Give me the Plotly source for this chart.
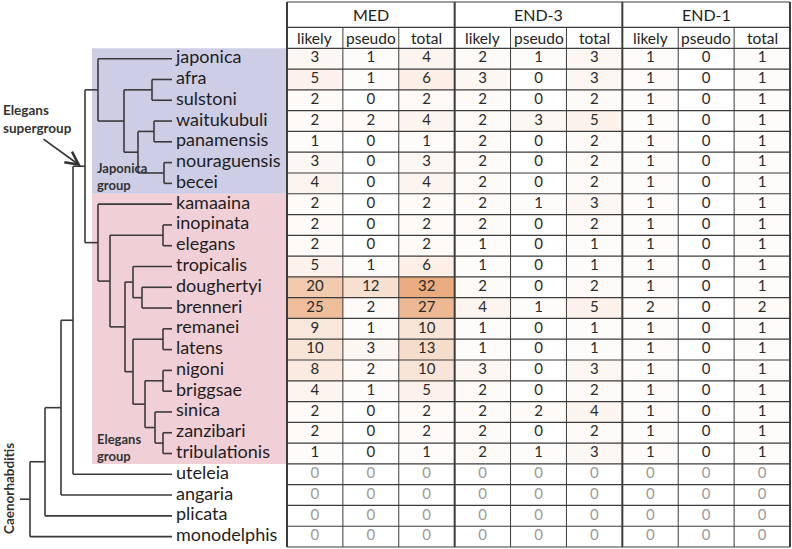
import plotly.graph_objects as go

# ---------------- data ----------------
species = ["japonica", "afra", "sulstoni", "waitukubuli", "panamensis", "nouraguensis",
           "becei", "kamaaina", "inopinata", "elegans", "tropicalis", "doughertyi",
           "brenneri", "remanei", "latens", "nigoni", "briggsae", "sinica", "zanzibari",
           "tribulationis", "uteleia", "angaria", "plicata", "monodelphis"]

groups = ["MED", "END-3", "END-1"]
sub_cols = ["likely", "pseudo", "total"]

med_likely = [3, 5, 2, 2, 1, 3, 4, 2, 2, 2, 5, 20, 25, 9, 10, 8, 4, 2, 2, 1, 0, 0, 0, 0]
med_pseudo = [1, 1, 0, 2, 0, 0, 0, 0, 0, 0, 1, 12, 2, 1, 3, 2, 1, 0, 0, 0, 0, 0, 0, 0]
med_total = [4, 6, 2, 4, 1, 3, 4, 2, 2, 2, 6, 32, 27, 10, 13, 10, 5, 2, 2, 1, 0, 0, 0, 0]
end3_likely = [2, 3, 2, 2, 2, 2, 2, 2, 2, 1, 1, 2, 4, 1, 1, 3, 2, 2, 2, 2, 0, 0, 0, 0]
end3_pseudo = [1, 0, 0, 3, 0, 0, 0, 1, 0, 0, 0, 0, 1, 0, 0, 0, 0, 2, 0, 1, 0, 0, 0, 0]
end3_total = [3, 3, 2, 5, 2, 2, 2, 3, 2, 1, 1, 2, 5, 1, 1, 3, 2, 4, 2, 3, 0, 0, 0, 0]
end1_likely = [1, 1, 1, 1, 1, 1, 1, 1, 1, 1, 1, 1, 2, 1, 1, 1, 1, 1, 1, 1, 0, 0, 0, 0]
end1_pseudo = [0, 0, 0, 0, 0, 0, 0, 0, 0, 0, 0, 0, 0, 0, 0, 0, 0, 0, 0, 0, 0, 0, 0, 0]
end1_total = [1, 1, 1, 1, 1, 1, 1, 1, 1, 1, 1, 1, 2, 1, 1, 1, 1, 1, 1, 1, 0, 0, 0, 0]

columns = [med_likely, med_pseudo, med_total,
           end3_likely, end3_pseudo, end3_total,
           end1_likely, end1_pseudo, end1_total]

outgroups = ["uteleia", "angaria", "plicata", "monodelphis"]

# phylogeny: [node depth, child, child]; leaves are species names
japonica_group = [98, "japonica",
                  [124, [152, "afra", "sulstoni"],
                   [138, [154, "waitukubuli", "panamensis"], [164, "nouraguensis", "becei"]]]]
elegans_group = [98, "kamaaina",
                 [110, [163, "inopinata", "elegans"],
                  [125, [133, "tropicalis", [142, "doughertyi", "brenneri"]],
                   [133, [163, "remanei", "latens"],
                    [145, [163, "nigoni", "briggsae"],
                     [155, "sinica", [163, "zanzibari", "tribulationis"]]]]]]]
tree = [30, [45, [61, [73, [85, japonica_group, elegans_group], "uteleia"], "angaria"], "plicata"],
        "monodelphis"]
root_stem = 20
leaf_depth = 172

# ---------------- geometry helpers ----------------
W, H = 792, 549
ROW_TOP, ROW_H = 48.3, 20.78
TAB_L, TAB_R = 287, 790


def py2r(py):
    return (py - ROW_TOP) / ROW_H - 0.5


ncol = 9
u_per_px = ncol / (TAB_R - TAB_L)
x2_range = [-0.5 - TAB_L * u_per_px, 8.5 + (W - TAB_R) * u_per_px]

FONT = "Lato"
LINE_C = "#3c3c3c"

fig = go.Figure()

# ---------------- group backgrounds ----------------
shapes = []
idx = {s: i for i, s in enumerate(species)}
shapes.append(dict(type="rect", xref="x", yref="y", x0=92, x1=TAB_L,
                   y0=idx["japonica"] - 0.5, y1=idx["becei"] + 0.5,
                   fillcolor="#cdcde6", line=dict(width=0), layer="below"))
shapes.append(dict(type="rect", xref="x", yref="y", x0=92, x1=TAB_L,
                   y0=idx["kamaaina"] - 0.5, y1=idx["tribulationis"] + 0.5,
                   fillcolor="#f1cfd6", line=dict(width=0), layer="below"))

# ---------------- tree ----------------
tx, ty = [], []
node_pos = {}


def walk(node):
    if isinstance(node, str):
        return leaf_depth, idx[node]
    x = node[0]
    kids = [walk(c) for c in node[1:]]
    ys = [k[1] for k in kids]
    y = sum(ys) / len(ys)
    tx.extend([x, x, None]); ty.extend([min(ys), max(ys), None])
    for cx, cy in kids:
        tx.extend([x, cx, None]); ty.extend([cy, cy, None])
    node_pos[id(node)] = (x, y)
    return x, y


rx, ry = walk(tree)
tx.extend([root_stem, rx, None]); ty.extend([ry, ry, None])
sg_x, sg_y = node_pos[id(tree[1][1][1][1])]

fig.add_trace(go.Scatter(x=tx, y=ty, mode="lines", xaxis="x", yaxis="y",
                         line=dict(color="#3a3a3a", width=1.6), hoverinfo="skip",
                         showlegend=False))

# species labels
fig.add_trace(go.Scatter(x=[leaf_depth + 4] * len(species), y=list(range(len(species))),
                         mode="text", text=species, textposition="middle right",
                         textfont=dict(family=FONT, size=18, color="#1e1e1e"),
                         xaxis="x", yaxis="y", hoverinfo="skip", showlegend=False))

# ---------------- heat table ----------------
z = [[columns[c][r] for c in range(ncol)] for r in range(len(species))]
fig.add_trace(go.Heatmap(z=z, x=list(range(ncol)), y=list(range(len(species))),
                         xaxis="x2", yaxis="y", zmin=0, zmax=32,
                         colorscale=[[0, "#ffffff"], [1, "#eaab7e"]],
                         showscale=False, hoverinfo="skip"))

cx, cy, ct, cc = [], [], [], []
for r, s in enumerate(species):
    for c in range(ncol):
        cx.append(c); cy.append(r); ct.append(str(columns[c][r]))
        cc.append("#9a9a9a" if s in outgroups else "#2a2a2a")
fig.add_trace(go.Scatter(x=cx, y=cy, mode="text", text=ct,
                         textfont=dict(family=FONT, size=15, color=cc),
                         xaxis="x2", yaxis="y", hoverinfo="skip", showlegend=False))

# table grid
hdr_top = py2r(2)
hdr_mid = py2r(27.3)
sub_top = -0.5
bottom = len(species) - 0.5
for k in range(ncol + 1):
    thick = k % 3 == 0
    shapes.append(dict(type="line", xref="x2", yref="y", x0=k - 0.5, x1=k - 0.5,
                       y0=hdr_top if thick else hdr_mid, y1=bottom,
                       line=dict(color=LINE_C, width=2 if thick else 1)))
for yv in [hdr_top, hdr_mid] + [r - 0.5 for r in range(len(species) + 1)]:
    shapes.append(dict(type="line", xref="x2", yref="y", x0=-0.5, x1=8.5, y0=yv, y1=yv,
                       line=dict(color=LINE_C, width=1.2)))

annotations = []
for g, name in enumerate(groups):
    annotations.append(dict(xref="x2", yref="y", x=g * 3 + 1, y=(hdr_top + hdr_mid) / 2,
                            text=name, showarrow=False,
                            font=dict(family=FONT, size=16, color="#222222")))
    for j, sc in enumerate(sub_cols):
        annotations.append(dict(xref="x2", yref="y", x=g * 3 + j, y=(hdr_mid + sub_top) / 2,
                                text=sc, showarrow=False,
                                font=dict(family=FONT, size=15.5, color="#222222")))

# tree labels
lab_font = dict(family=FONT, size=13.5, color="#333333")
annotations.append(dict(xref="x", yref="y", x=1, y=py2r(119), xanchor="left",
                        text="<b>Elegans<br>supergroup</b>", showarrow=False, align="left",
                        font=lab_font))
annotations.append(dict(xref="x", yref="y", x=95, y=py2r(176), xanchor="left",
                        text="<b>Japonica<br>group</b>", showarrow=False, align="left",
                        font=dict(family=FONT, size=13, color="#333333")))
annotations.append(dict(xref="x", yref="y", x=95, y=py2r(447), xanchor="left",
                        text="<b>Elegans<br>group</b>", showarrow=False, align="left",
                        font=dict(family=FONT, size=13, color="#333333")))
annotations.append(dict(xref="x", yref="y", x=9, y=py2r(489), text="<b>Caenorhabditis</b>",
                        textangle=-90, showarrow=False, font=lab_font))
annotations.append(dict(xref="x", yref="y", x=sg_x - 4, y=sg_y, axref="x", ayref="y",
                        ax=42, ay=py2r(138), text="", showarrow=True, arrowhead=5,
                        arrowsize=1.6, arrowwidth=1.6, arrowcolor="#333333"))

fig.update_layout(
    width=W, height=H, margin=dict(l=0, r=0, t=0, b=0),
    paper_bgcolor="white", plot_bgcolor="white",
    xaxis=dict(domain=[0, 1], range=[0, W], visible=False, fixedrange=True),
    xaxis2=dict(domain=[0, 1], range=x2_range, overlaying="x", visible=False, fixedrange=True),
    yaxis=dict(range=[py2r(H), py2r(0)], visible=False, fixedrange=True),
    shapes=shapes, annotations=annotations, showlegend=False,
)

fig.write_html("out.html", config={"displayModeBar": False},
               post_script="document.body.style.margin='0px';document.body.style.overflow='hidden';")
